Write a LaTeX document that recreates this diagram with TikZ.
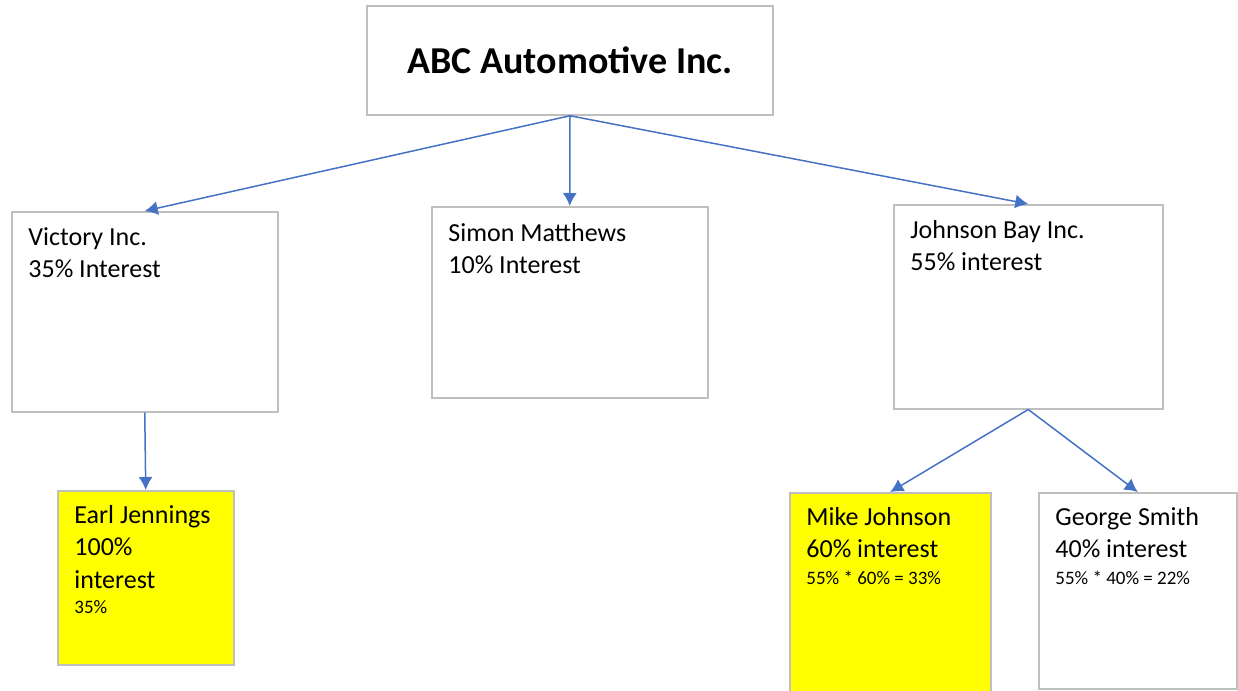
\documentclass[tikz,border=0pt]{standalone}
\usepackage{fontspec}
\setmainfont{Carlito}
\usetikzlibrary{arrows.meta}
\definecolor{linkblue}{HTML}{4472C4}
\definecolor{boxgray}{HTML}{BFBFBF}
\definecolor{hlyellow}{HTML}{FFFF00}
\begin{document}
\begin{tikzpicture}[x=0.5pt, y=-0.5pt,
	box/.style={draw=boxgray, line width=0.75pt, fill=white, inner sep=0pt, anchor=north west},
	hl/.style={box, fill=hlyellow},
	txt/.style={anchor=north west, inner sep=0pt, align=left, font=\fontsize{13}{16.25}\selectfont},
	link/.style={draw=linkblue, line width=0.75pt, -{Latex[length=6.5pt, width=7pt]}}]
	\useasboundingbox (0,0) rectangle (1238,691);

	% top company
	\node[box, anchor=center, minimum width=203pt, minimum height=54.5pt, font=\bfseries\fontsize{19}{22}\selectfont] (abc) at (570,60.5) {ABC Automotive Inc.};

	% second row
	\node[box, minimum width=133pt, minimum height=100pt] (vic) at (11,211) {};
	\node[box, minimum width=138pt, minimum height=95.5pt] (sim) at (431,206) {};
	\node[box, minimum width=134.5pt, minimum height=102pt] (jb) at (893,204) {};
	\node[txt] (vict) at ([shift={(17,11)}]vic.north west) {\strut Victory Inc.\\35\% Interest};
	\node[txt] (simt) at ([shift={(17,12)}]sim.north west) {\strut Simon Matthews\\10\% Interest};
	\node[txt] (jbt) at ([shift={(17,11)}]jb.north west) {\strut Johnson Bay Inc.\\55\% interest};

	% third row
	\node[hl, minimum width=88pt, minimum height=87pt] (earl) at (57,490) {};
	\node[hl, minimum width=100.5pt, minimum height=103pt] (mike) at (789,492) {};
	\node[box, minimum width=99pt, minimum height=98pt] (geo) at (1038,492) {};
	\node[txt] (earlt) at ([shift={(17,10)}]earl.north west) {\strut Earl Jennings\\100\%\\interest\\[-3.5pt]{\fontsize{9.5}{12}\selectfont 35\%}};
	\node[txt] (miket) at ([shift={(17,10)}]mike.north west) {\strut Mike Johnson\\60\% interest\\[-3pt]{\fontsize{9.5}{12}\selectfont 55\% * 60\% = 33\%}};
	\node[txt] (geot) at ([shift={(17,10)}]geo.north west) {\strut George Smith\\40\% interest\\[-3pt]{\fontsize{9.5}{12}\selectfont 55\% * 40\% = 22\%}};

	\draw[link] (abc.south) -- (vic.north);
	\draw[link] (abc.south) -- (sim.north);
	\draw[link] (abc.south) -- (jb.north);
	\draw[link] (vic.south) -- (earl.north);
	\draw[link] (jb.south) -- (mike.north);
	\draw[link] (jb.south) -- (geo.north);
\end{tikzpicture}
\end{document}
